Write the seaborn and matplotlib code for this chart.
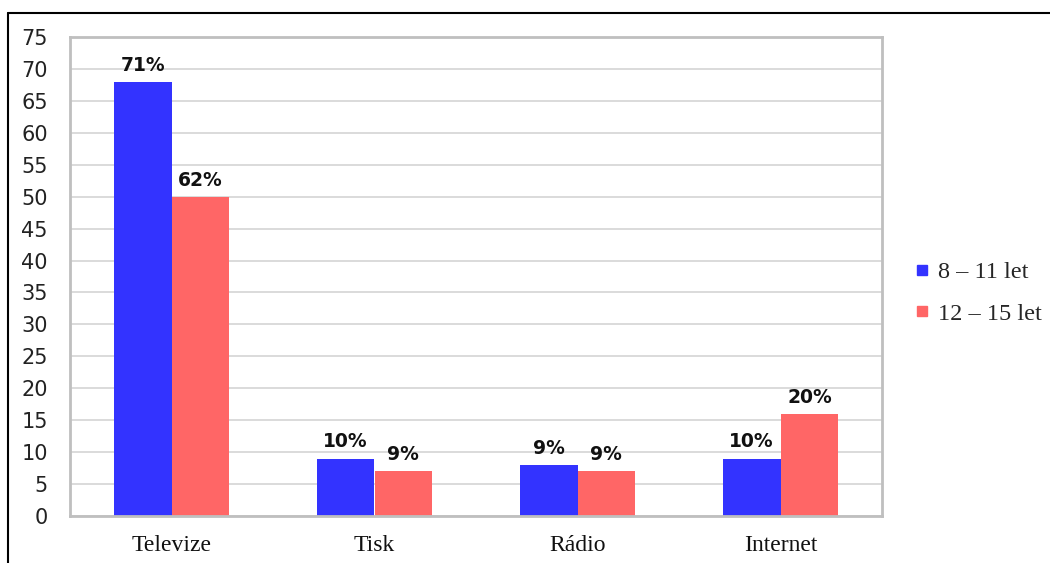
import matplotlib
matplotlib.use("Agg")
import matplotlib.pyplot as plt
from matplotlib.lines import Line2D
import seaborn as sns
import pandas as pd

# Media categories and age groups
categories = ["Televize", "Tisk", "Rádio", "Internet"]
groups = ["8 – 11 let", "12 – 15 let"]

# Bar heights per age group (axis units)
values_8_11 = [68, 9, 8, 9]
values_12_15 = [50, 7, 7, 16]

# Percentage annotations printed above each bar
labels_8_11 = ["71%", "10%", "9%", "10%"]
labels_12_15 = ["62%", "9%", "9%", "20%"]

y_ticks = list(range(0, 80, 5))
colors = ["#3333FF", "#FF6666"]

df = pd.DataFrame({
    "Médium": categories * 2,
    "Skupina": [groups[0]] * 4 + [groups[1]] * 4,
    "Hodnota": values_8_11 + values_12_15,
})

sns.set_theme(style="white")
plt.rcParams["font.family"] = ["DejaVu Sans"]

fig = plt.figure(figsize=(10.5, 5.63), dpi=100)
ax = fig.add_axes([70 / 1050, 47 / 563, 812 / 1050, 479 / 563])

sns.barplot(data=df, x="Médium", y="Hodnota", hue="Skupina",
            order=categories, hue_order=groups, palette=colors,
            saturation=1, width=0.57, gap=0, ax=ax, legend=False,
            edgecolor="none", linewidth=0)

ax.set_ylim(0, 75)
ax.set_yticks(y_ticks)
ax.set_xlabel("")
ax.set_ylabel("")
ax.yaxis.grid(True, color="#d4d4d4", linewidth=1.2)
ax.set_axisbelow(True)
for side in ["left", "right", "top", "bottom"]:
    ax.spines[side].set_visible(True)
    ax.spines[side].set_color("#bfbfbf")
    ax.spines[side].set_linewidth(2)

ax.tick_params(axis="y", length=0, pad=16, labelsize=15, labelcolor="#222222")
ax.tick_params(axis="x", length=0, pad=14)
for t in ax.get_xticklabels():
    t.set_fontfamily("Liberation Serif")
    t.set_fontsize(17)
    t.set_color("#111111")

# Percentage labels above bars
for container, labels in zip(ax.containers, [labels_8_11, labels_12_15]):
    for bar, lab in zip(container, labels):
        x = bar.get_x() + bar.get_width() / 2
        y = bar.get_height()
        ax.annotate(lab, (x, y), xytext=(0, 8), textcoords="offset points",
                    ha="center", va="baseline", fontsize=13.5,
                    fontweight="bold", color="#111111")

handles = [Line2D([0], [0], marker="s", linestyle="none", markersize=7.5,
                  markerfacecolor=c, markeredgecolor=c) for c in colors]
fig.legend(handles, groups, loc="center left",
           bbox_to_anchor=(912 / 1050, 1 - 293 / 563), frameon=False,
           prop={"family": "Liberation Serif", "size": 17.5},
           handlelength=0.8, handletextpad=0.25, labelspacing=0.8,
           borderaxespad=0, borderpad=0)

# Outer frame: left and top edges
fig.add_artist(Line2D([8 / 1050, 8 / 1050], [0, 1 - 13 / 563],
                      transform=fig.transFigure, color="black", linewidth=1.5))
fig.add_artist(Line2D([8 / 1050, 1], [1 - 13 / 563, 1 - 13 / 563],
                      transform=fig.transFigure, color="black", linewidth=1.5))

fig.savefig("out.png", dpi=100, facecolor="white")
